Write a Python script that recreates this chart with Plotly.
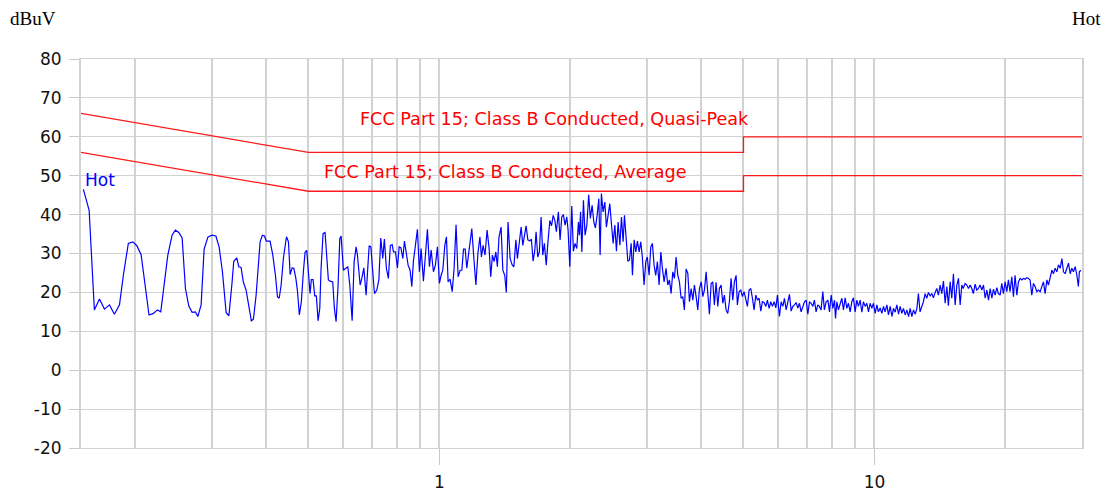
import math
import plotly.graph_objects as go

# Conducted emission scan, line "Hot" (frequency in MHz, level in dBuV)
hot_freq_mhz = [
    0.1519, 0.1566, 0.1610, 0.1654, 0.1698, 0.1744, 0.1790, 0.1839, 0.1877, 0.1927,
    0.1974, 0.2016, 0.2062, 0.2106, 0.2150, 0.2200, 0.2247, 0.2288, 0.2329, 0.2375,
    0.2429, 0.2472, 0.2517, 0.2562, 0.2607, 0.2654, 0.2701, 0.2748, 0.2784, 0.2833,
    0.2878, 0.2936, 0.2998, 0.3063, 0.3116, 0.3171, 0.3234, 0.3281, 0.3333, 0.3367,
    0.3421, 0.3458, 0.3500, 0.3543, 0.3594, 0.3652, 0.3696, 0.3736, 0.3790, 0.3871,
    0.3918, 0.3960, 0.4002, 0.4081, 0.4140, 0.4198, 0.4243, 0.4282, 0.4327, 0.4380,
    0.4451, 0.4498, 0.4538, 0.4586, 0.4628, 0.4677, 0.4715, 0.4765, 0.4815, 0.4867,
    0.4911, 0.4955, 0.4997, 0.5042, 0.5077, 0.5123, 0.5169, 0.5214, 0.5261, 0.5308,
    0.5345, 0.5402, 0.5459, 0.5509, 0.5556, 0.5606,
    0.5686, 0.5735, 0.5788, 0.5849, 0.5902, 0.5943, 0.6016, 0.6093, 0.6158, 0.6223,
    0.6300, 0.6367, 0.6435, 0.6479, 0.6573, 0.6632, 0.6703, 0.6784, 0.6894, 0.6956,
    0.7015, 0.7090, 0.7180, 0.7257, 0.7331, 0.7409, 0.7472, 0.7552, 0.7632, 0.7714,
    0.7787, 0.7841, 0.7924, 0.8008, 0.8081, 0.8154, 0.8241, 0.8309, 0.8384, 0.8473,
    0.8563, 0.8640, 0.8714, 0.8807, 0.8901, 0.8995, 0.9077, 0.9188, 0.9286, 0.9385,
    0.9485, 0.9570, 0.9688, 0.9790, 0.9895, 1.000, 1.009, 1.018, 1.029, 1.038,
    1.047, 1.058, 1.070, 1.081, 1.092, 1.104, 1.116, 1.126, 1.136, 1.146,
    1.156, 1.166, 1.177, 1.187, 1.200, 1.213, 1.226, 1.239, 1.249, 1.260,
    1.273, 1.287, 1.301, 1.312, 1.324, 1.336, 1.348, 1.359, 1.371, 1.386,
    1.399, 1.413, 1.425, 1.438, 1.454, 1.469, 1.483, 1.499, 1.511, 1.525,
    1.541, 1.555, 1.568, 1.582, 1.597, 1.614, 1.627, 1.642, 1.657, 1.668,
    1.683, 1.697, 1.713, 1.728, 1.743, 1.760, 1.775, 1.794, 1.810, 1.826,
    1.842, 1.857, 1.877, 1.894, 1.911, 1.927, 1.945, 1.962, 1.976, 1.994,
    2.015, 2.032, 2.050, 2.069, 2.087, 2.098,
    2.111, 2.125, 2.143, 2.162, 2.182, 2.204, 2.223, 2.244, 2.264, 2.283,
    2.304, 2.325, 2.341, 2.357, 2.378, 2.400, 2.420, 2.442, 2.464, 2.485,
    2.508, 2.531, 2.552, 2.575, 2.599, 2.621, 2.644, 2.663, 2.687, 2.711,
    2.734, 2.759, 2.778, 2.803, 2.828, 2.852, 2.878, 2.903, 2.928, 2.954,
    2.981, 3.005, 3.034, 3.061, 3.087, 3.115, 3.143, 3.170, 3.199, 3.228,
    3.255, 3.285, 3.319, 3.349, 3.378, 3.409, 3.439, 3.469, 3.500, 3.532,
    3.562, 3.594, 3.626, 3.657, 3.690, 3.724, 3.756, 3.790, 3.824, 3.856,
    3.891, 3.926, 3.960, 3.998, 4.032, 4.066, 4.103, 4.140, 4.175, 4.213,
    4.250, 4.286, 4.325, 4.364, 4.401, 4.441, 4.481, 4.519, 4.560, 4.601,
    4.640, 4.682, 4.725, 4.765, 4.808, 4.841, 4.885, 4.929, 4.971, 5.016,
    5.061, 5.105, 5.151, 5.197, 5.242, 5.289, 5.337, 5.382, 5.431, 5.480,
    5.526, 5.576, 5.627, 5.674, 5.726, 5.779, 5.828, 5.881, 5.934, 5.984,
    6.048, 6.103, 6.158, 6.210, 6.267, 6.323, 6.377, 6.435, 6.493, 6.548,
    6.607, 6.667, 6.724, 6.784, 6.846, 6.904, 6.966, 7.029, 7.090, 7.153,
    7.218, 7.277, 7.343, 7.409, 7.472, 7.540, 7.608, 7.673, 7.742, 7.816,
    7.882,
    7.954, 8.025, 8.094, 8.137, 8.197, 8.264, 8.339, 8.415, 8.487, 8.563,
    8.640, 8.714, 8.793, 8.872, 8.948, 9.029, 9.110, 9.188, 9.271, 9.356,
    9.434, 9.520, 9.606, 9.688, 9.775, 9.863, 9.947, 10.04, 10.13, 10.21,
    10.31, 10.40, 10.49, 10.58, 10.68, 10.77, 10.87, 10.97, 11.06, 11.16,
    11.26, 11.36, 11.46, 11.56, 11.66, 11.77, 11.87, 11.98, 12.08, 12.19,
    12.30, 12.41, 12.52, 12.62, 12.73, 12.85, 12.96, 13.08, 13.19, 13.31,
    13.43, 13.55, 13.66, 13.79, 13.91, 14.03, 14.16, 14.28, 14.41, 14.54,
    14.67, 14.79, 14.93, 15.06, 15.19, 15.33, 15.47, 15.60, 15.74, 15.88,
    16.00, 16.16, 16.31, 16.45, 16.60, 16.74, 16.88, 17.04, 17.19, 17.34,
    17.49, 17.66, 17.81, 17.97, 18.13, 18.29, 18.45, 18.62, 18.77, 18.94,
    19.11, 19.27, 19.45, 19.62, 19.79, 19.97, 20.15, 20.32, 20.50, 20.69,
    20.87, 21.05, 21.25, 21.43, 21.62, 21.82, 22.00, 22.20, 22.40, 22.59,
    22.79, 23.00, 23.20, 23.41, 23.62, 23.82, 24.04, 24.25, 24.46, 24.68,
    24.91, 25.12, 25.35, 25.58, 25.79, 26.03, 26.26, 26.49, 26.73, 26.97,
    27.20, 27.44, 27.69, 27.93, 28.18, 28.43, 28.67, 28.94, 29.20, 29.43,
    29.59, 29.81,
]

hot_level_dbuv = [
    46.5, 41.1, 15.5, 18.3, 15.7, 16.8, 14.4, 16.8, 24.4, 32.6,
    33.0, 32.0, 29.7, 21.9, 14.2, 14.6, 15.5, 15.0, 22.7, 29.6,
    34.7, 36.0, 35.4, 34.0, 21.0, 16.5, 14.9, 15.0, 13.8, 16.8,
    31.1, 34.2, 34.7, 34.5, 31.7, 25.3, 14.8, 14.0, 21.9, 28.0,
    28.9, 26.6, 26.4, 22.6, 20.6, 15.9, 12.7, 13.1, 19.3, 33.0,
    34.7, 34.5, 33.2, 33.2, 29.6, 24.4, 18.9, 18.5, 21.9, 28.9,
    34.3, 33.0, 24.6, 26.3, 26.2, 23.6, 20.6, 14.2, 17.6, 25.3,
    30.3, 30.8, 26.2, 19.7, 23.3, 23.3, 19.1, 19.1, 12.7, 15.9,
    26.2, 35.1, 35.4, 30.0, 23.2, 22.9,
    22.7, 15.9, 12.5, 21.9, 33.8, 34.5, 25.7, 26.2, 26.6, 21.9,
    12.7, 27.9, 31.7, 29.6, 21.9, 23.6, 26.3, 19.3, 32.0, 31.7,
    25.3, 19.7, 20.6, 23.2, 34.0, 28.7, 33.7, 26.2, 23.6, 32.1,
    32.3, 30.4, 30.4, 26.3, 31.7, 31.5, 28.7, 33.2, 30.4, 27.0,
    25.7, 21.5, 28.0, 33.0, 36.2, 25.3, 31.3, 22.9, 29.6, 36.2,
    26.6, 30.9, 25.3, 27.0, 31.7, 22.3, 24.4, 25.7, 32.1, 34.3,
    22.7, 23.4, 20.2, 26.3, 37.4, 24.0, 25.7, 25.7, 31.1, 31.1,
    26.2, 29.6, 34.5, 36.4, 28.7, 21.9, 30.0, 34.3, 29.1, 32.1,
    29.6, 36.0, 31.3, 24.0, 29.6, 27.9, 30.4, 26.6, 34.3, 36.8,
    25.7, 24.4, 20.0, 38.1, 28.7, 27.1, 26.6, 33.5, 28.7, 33.2,
    36.8, 32.1, 34.7, 37.1, 33.5, 33.2, 33.7, 28.0, 30.9, 35.6,
    29.1, 30.4, 39.4, 29.6, 32.6, 27.0, 32.6, 38.5, 37.1, 39.8,
    38.5, 35.6, 40.7, 33.5, 39.4, 40.0, 37.3, 39.4, 36.0, 26.6,
    42.2, 30.6, 32.6, 31.3, 38.1, 34.7,
    40.7, 30.4, 43.7, 34.7, 37.3, 45.1, 39.0, 42.4, 38.1, 36.6,
    39.8, 44.1, 29.6, 45.4, 40.7, 43.2, 36.8, 39.8, 42.8, 37.7,
    32.6, 37.3, 30.6, 38.1, 32.1, 39.4, 33.0, 39.8, 34.7, 28.0,
    28.3, 32.6, 24.4, 33.5, 30.4, 33.2, 30.4, 33.0, 28.9, 21.9,
    27.9, 29.1, 24.4, 31.7, 32.6, 27.0, 24.4, 27.9, 21.9, 30.4,
    26.2, 22.7, 26.2, 21.9, 23.2, 19.7, 25.3, 23.6, 29.1, 24.4,
    22.7, 18.5, 18.9, 15.5, 26.0, 24.9, 17.6, 21.0, 18.0, 21.9,
    18.9, 15.5, 21.0, 22.7, 18.9, 20.6, 25.3, 20.6, 14.4, 22.3,
    22.7, 16.8, 22.6, 16.4, 21.0, 21.9, 17.2, 19.3, 15.5, 14.6,
    17.6, 23.6, 18.0, 22.7, 24.4, 16.8, 20.2, 20.6, 18.9, 20.2,
    18.0, 16.4, 20.6, 21.0, 18.5, 15.5, 19.3, 18.0, 18.5, 15.2,
    17.6, 17.4, 16.4, 18.0, 15.9, 17.6, 16.4, 17.6, 16.0, 19.3,
    13.8, 17.6, 16.4, 18.5, 15.5, 17.2, 19.5, 15.2, 16.4, 16.8,
    17.4, 16.0, 17.2, 15.0, 16.4, 17.6, 18.0, 14.4, 17.6, 17.2,
    16.4, 18.0, 15.0, 16.8, 16.4, 15.5, 20.2, 15.5, 17.6, 18.0,
    15.0,
    19.3, 15.9, 18.0, 13.3, 17.6, 15.5, 17.2, 18.5, 15.5, 18.6,
    15.9, 17.2, 15.0, 17.6, 18.6, 15.0, 18.0, 16.4, 18.0, 14.9,
    17.6, 16.4, 17.2, 15.0, 17.2, 15.9, 17.2, 14.6, 16.8, 15.0,
    16.0, 14.6, 16.4, 15.0, 16.8, 14.2, 16.4, 13.8, 15.9, 14.9,
    16.8, 14.4, 16.4, 14.6, 15.9, 14.2, 15.5, 13.8, 15.9, 13.8,
    15.5, 14.4, 15.9, 19.7, 15.0, 16.4, 17.6, 19.7, 18.5, 20.0,
    19.1, 19.7, 18.6, 20.0, 21.0, 19.3, 21.9, 19.7, 22.9, 17.2,
    21.5, 16.6, 22.7, 18.5, 24.8, 16.8, 21.9, 23.6, 16.8, 21.9,
    21.0, 22.3, 21.9, 21.0, 21.9, 21.0, 19.7, 22.1, 20.6, 21.0,
    21.9, 20.6, 21.9, 18.5, 20.6, 18.0, 21.0, 18.5, 20.8, 19.3,
    21.2, 19.7, 19.3, 22.3, 19.7, 22.7, 20.2, 23.2, 20.2, 24.0,
    18.9, 24.4, 19.3, 22.7, 23.6, 23.2, 23.6, 23.4, 23.8, 23.6,
    23.2, 19.3, 22.3, 21.5, 20.2, 20.6, 20.2, 21.5, 22.7, 19.7,
    23.2, 21.9, 24.0, 25.7, 24.8, 26.2, 25.3, 27.1, 26.2, 28.7,
    25.3, 24.8, 26.2, 27.5, 24.8, 26.2, 25.3, 26.6, 24.4, 21.5,
    25.3, 25.7,
]

# FCC Part 15 Class B conducted limits
limit_freq_mhz = [0.15, 0.5, 5.0, 5.0, 30.0]
qp_limit_dbuv = [66, 56, 56, 60, 60]
avg_limit_dbuv = [56, 46, 46, 50, 50]

freq_min, freq_max = 0.15, 30.0
level_min, level_max = -20, 80

x_labelled = [1, 10]
x_minor = [0.2, 0.3, 0.4, 0.5, 0.6, 0.7, 0.8, 0.9,
           2, 3, 4, 5, 6, 7, 8, 9, 20, 30]
y_ticks = [-20, -10, 0, 10, 20, 30, 40, 50, 60, 70, 80]

SANS = "DejaVu Sans"
SERIF = "Liberation Serif, Times New Roman, serif"
GRID = "#d2d2d2"

fig = go.Figure()

fig.add_trace(go.Scatter(
    x=limit_freq_mhz, y=qp_limit_dbuv, mode="lines",
    line=dict(color="#ff1a1a", width=1.3), name="QP limit", hoverinfo="skip",
))
fig.add_trace(go.Scatter(
    x=limit_freq_mhz, y=avg_limit_dbuv, mode="lines",
    line=dict(color="#ff1a1a", width=1.3), name="AV limit", hoverinfo="skip",
))
fig.add_trace(go.Scatter(
    x=hot_freq_mhz, y=hot_level_dbuv, mode="lines",
    line=dict(color="#0000ff", width=1.2), name="Hot",
))

annotations = [
    dict(x=math.log10(0.65), y=64.6, xref="x", yref="y",
         text="FCC Part 15; Class B Conducted, Quasi-Peak",
         xanchor="left", yanchor="middle", showarrow=False,
         font=dict(family=SANS, size=17.6, color="#ff0000")),
    dict(x=math.log10(0.537), y=51.0, xref="x", yref="y",
         text="FCC Part 15; Class B Conducted, Average",
         xanchor="left", yanchor="middle", showarrow=False,
         font=dict(family=SANS, size=17.6, color="#ff0000")),
    dict(x=math.log10(0.1517), y=48.9, xref="x", yref="y",
         text="Hot", xanchor="left", yanchor="middle", showarrow=False,
         font=dict(family=SANS, size=17, color="#0000ff")),
    dict(x=-0.073, y=1.105, xref="paper", yref="paper",
         text="dBuV", xanchor="left", yanchor="middle", showarrow=False,
         font=dict(family=SERIF, size=19, color="#000000")),
    dict(x=1.021, y=1.105, xref="paper", yref="paper",
         text="Hot", xanchor="right", yanchor="middle", showarrow=False,
         font=dict(family=SERIF, size=19, color="#000000")),
]

fig.update_layout(
    width=1111, height=491,
    margin=dict(l=81, r=29, t=59, b=43, pad=0),
    paper_bgcolor="white", plot_bgcolor="white",
    showlegend=False,
    annotations=annotations,
    xaxis=dict(
        type="log", automargin=False,
        range=[math.log10(freq_min), math.log10(freq_max)],
        tickmode="array", tickvals=x_labelled,
        ticktext=[str(v) for v in x_labelled],
        ticks="outside", ticklen=16, tickwidth=1, tickcolor="#c8c8c8",
        ticklabelstandoff=3,
        showgrid=True, gridcolor=GRID, gridwidth=2,
        minor=dict(tickmode="array", tickvals=x_minor, showgrid=True,
                   gridcolor=GRID, gridwidth=2, ticks=""),
        showline=True, mirror=True, linecolor=GRID, linewidth=1,
        zeroline=False,
        tickfont=dict(family=SANS, size=17, color="#111111"),
    ),
    yaxis=dict(
        automargin=False,
        range=[level_min, level_max],
        tickmode="array", tickvals=y_ticks,
        ticktext=[str(v) for v in y_ticks],
        ticks="outside", ticklen=10, tickwidth=1, tickcolor="#c8c8c8",
        ticklabelstandoff=4,
        showgrid=True, gridcolor=GRID, gridwidth=1,
        showline=True, mirror=True, linecolor=GRID, linewidth=2,
        zeroline=False,
        tickfont=dict(family=SANS, size=17, color="#111111"),
    ),
)

fig.write_html("out.html")
